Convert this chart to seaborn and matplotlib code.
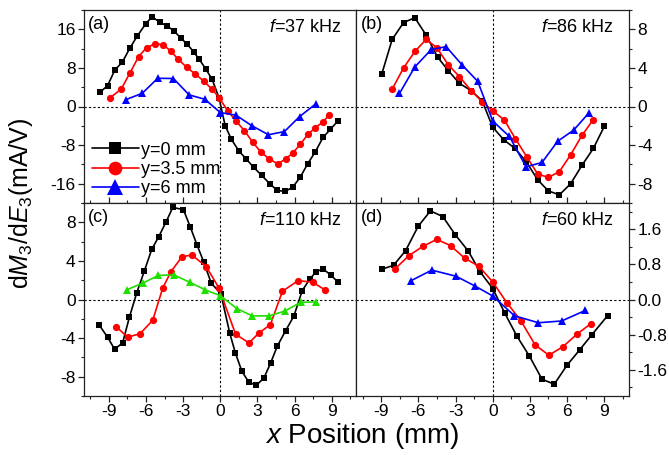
import numpy as np
import pandas as pd
import matplotlib
matplotlib.use("Agg")
import matplotlib.pyplot as plt
from matplotlib.ticker import MultipleLocator, FormatStrFormatter
import seaborn as sns

# ---- data: derivative dM3/dE3 (mA/V) versus x position (mm) ----
# (a) f = 37 kHz
a_y0_x = [-9.7, -9.1, -8.5, -7.9, -7.3, -6.7, -6.0, -5.5, -4.9, -4.3, -3.7, -3.2,
          -2.65, -2.15, -1.7, -1.15, -0.65, -0.1, 0.4, 0.9, 1.5, 2.1, 2.7, 3.35,
          4.0, 4.6, 5.25, 5.85, 6.45, 7.05, 7.65, 8.3, 8.9, 9.5]
a_y0_v = [3.0, 4.3, 7.6, 9.2, 12.1, 14.6, 17.2, 18.6, 17.5, 16.7, 15.6, 14.2,
          12.9, 11.3, 9.8, 7.7, 5.6, 1.8, -4.0, -6.8, -9.2, -10.9, -12.6, -14.3,
          -16.0, -17.4, -17.6, -16.7, -14.7, -11.9, -9.5, -6.4, -4.7, -3.0]
a_y35_x = [-8.9, -8.0, -7.3, -6.6, -5.95, -5.25, -4.6, -4.0, -3.4, -2.7, -2.0,
           -1.35, -0.67, -0.08, 0.6, 1.27, 1.95, 2.62, 3.3, 3.97, 4.64, 5.27,
           5.87, 6.47, 7.07, 7.67, 8.3, 8.77]
a_y35_v = [1.8, 3.6, 6.9, 10.3, 12.2, 13.0, 12.8, 11.5, 9.8, 8.1, 6.7, 5.3,
           3.6, 1.8, -0.9, -3.0, -5.0, -7.4, -9.5, -10.9, -11.9, -10.9, -9.6,
           -7.8, -5.8, -4.4, -3.2, -1.8]
a_y6_x = [-7.64, -6.29, -5.05, -3.78, -2.51, -1.24, 0.0, 1.27, 2.56, 3.89,
          5.18, 6.40, 7.69]
a_y6_v = [1.4, 2.75, 5.85, 5.8, 2.4, 1.5, -1.25, -1.8, -4.0, -5.85, -5.2,
          -2.1, 0.5]

# (b) f = 86 kHz
b_y0_x = [-8.95, -8.12, -7.2, -6.29, -5.38, -4.44, -3.58, -2.69, -1.75, -0.86,
          0.0, 0.89, 1.8, 2.69, 3.63, 4.49, 5.38, 6.29, 7.2, 8.12, 9.01]
b_y0_v = [3.4, 6.95, 8.7, 9.2, 7.4, 5.1, 3.7, 2.4, 1.65, 0.6, -2.15, -3.45,
          -4.35, -5.7, -7.6, -8.75, -9.15, -8.0, -6.1, -4.35, -2.05]
b_y35_x = [-8.12, -7.2, -6.29, -5.38, -4.52, -3.58, -2.69, -1.75, -0.86, 0.0,
           0.94, 1.83, 2.74, 3.63, 4.49, 5.38, 6.29, 7.2, 8.12]
b_y35_v = [1.8, 4.0, 5.7, 6.95, 6.1, 4.3, 3.1, 1.65, 0.5, -0.45, -1.4, -3.35,
           -5.2, -7.0, -7.35, -6.75, -5.0, -3.0, -1.35]
b_y6_x = [-7.53, -6.29, -4.97, -3.76, -2.47, -1.21, 0.0, 1.34, 2.69, 3.98,
          5.24, 6.53, 7.74]
b_y6_v = [1.35, 4.1, 5.9, 6.2, 4.3, 2.6, -1.5, -3.1, -6.25, -5.8, -3.6,
          -2.45, -0.7]

# (c) f = 110 kHz
c_y0_x = [-9.77, -9.1, -8.53, -7.88, -7.34, -6.75, -6.13, -5.53, -4.97, -4.37,
          -3.83, -2.97, -2.43, -1.86, -1.32, -0.73, 0.05, 0.76, 1.21, 1.75,
          2.3, 2.9, 3.52, 4.06, 4.6, 5.27, 5.95, 6.62, 7.22, 7.75, 8.3, 8.92,
          9.5]
c_y0_v = [-2.65, -3.9, -5.15, -4.5, -1.85, 0.65, 2.95, 5.2, 6.5, 8.05, 9.55,
          9.3, 7.55, 5.6, 3.85, 1.7, 0.6, -3.45, -5.5, -7.45, -8.55, -8.9,
          -8.15, -6.6, -4.85, -3.25, -1.7, 0.93, 2.1, 2.9, 3.15, 2.55, 1.8]
c_y35_x = [-8.42, -7.48, -6.48, -5.45, -4.64, -3.97, -3.08, -2.27, -1.13,
           -0.11, 1.24, 2.32, 3.1, 4.05, 5.02, 6.29, 7.45, 8.45]
c_y35_v = [-2.8, -3.9, -3.55, -2.15, 1.2, 2.9, 4.45, 4.6, 3.4, 1.2, -3.6,
           -4.5, -3.5, -2.6, 0.85, 1.95, 1.8, 1.0]
c_y6_x = [-7.56, -6.26, -4.99, -3.75, -2.48, -1.21, 0.0, 1.35, 2.59, 3.94,
          5.21, 6.48, 7.72]
c_y6_v = [1.0, 1.7, 2.5, 2.55, 1.8, 1.0, 0.4, -0.95, -1.7, -1.7, -1.2,
          -0.3, -0.25]

# (d) f = 60 kHz
d_y0_x = [-8.95, -8.01, -7.04, -6.02, -5.03, -4.03, -3.01, -1.99, -1.02, 0.0,
          0.97, 1.94, 2.96, 3.98, 4.97, 5.99, 7.04, 8.01, 9.27]
d_y0_v = [0.69, 0.78, 1.11, 1.67, 2.02, 1.89, 1.47, 1.11, 0.63, 0.25, -0.31,
          -0.83, -1.29, -1.82, -1.93, -1.5, -1.14, -0.8, -0.37]
d_y35_x = [-7.88, -6.77, -5.65, -4.52, -3.41, -2.26, -1.13, 0.0, 1.13, 2.26,
           3.41, 4.52, 5.65, 6.8, 7.93]
d_y35_v = [0.7, 1.0, 1.21, 1.37, 1.23, 0.94, 0.76, 0.4, -0.07, -0.48, -1.03,
           -1.27, -1.08, -0.79, -0.55]
d_y6_x = [-6.59, -4.92, -2.96, -1.45, 0.0, 1.75, 3.68, 5.56, 7.47]
d_y6_v = [0.43, 0.67, 0.53, 0.31, 0.08, -0.37, -0.53, -0.49, -0.25]

series_labels = ["y=0 mm", "y=3.5 mm", "y=6 mm"]
panel_tags = ["(a)", "(b)", "(c)", "(d)"]
freq_labels = ["37", "86", "110", "60"]
x_ticks = [-9, -6, -3, 0, 3, 6, 9]

# ---- style ----
sns.set_theme(style="ticks")
plt.rcParams["font.family"] = ["Liberation Sans", "DejaVu Sans"]
plt.rcParams["mathtext.fontset"] = "custom"
plt.rcParams["mathtext.rm"] = "Liberation Sans"
plt.rcParams["mathtext.it"] = "Liberation Sans:italic"
plt.rcParams["axes.unicode_minus"] = False
plt.rcParams["axes.linewidth"] = 0.9
plt.rcParams["axes.edgecolor"] = "#222222"
plt.rcParams["text.color"] = "black"
plt.rcParams["xtick.color"] = "#222222"
plt.rcParams["ytick.color"] = "#222222"
plt.rcParams["xtick.labelcolor"] = "black"
plt.rcParams["ytick.labelcolor"] = "black"

fig = plt.figure(figsize=(6.69, 4.55), dpi=100)
gs = fig.add_gridspec(2, 2, left=84 / 669, right=629 / 669,
                      top=1 - 10 / 455, bottom=1 - 396 / 455,
                      wspace=0, hspace=0)
axes = [fig.add_subplot(gs[i, j]) for i in range(2) for j in range(2)]

panels = [
    [(a_y0_x, a_y0_v), (a_y35_x, a_y35_v), (a_y6_x, a_y6_v)],
    [(b_y0_x, b_y0_v), (b_y35_x, b_y35_v), (b_y6_x, b_y6_v)],
    [(c_y0_x, c_y0_v), (c_y35_x, c_y35_v), (c_y6_x, c_y6_v)],
    [(d_y0_x, d_y0_v), (d_y35_x, d_y35_v), (d_y6_x, d_y6_v)],
]
color_sets = [
    ["black", "#ff0000", "#0000ff"],
    ["black", "#ff0000", "#0000ff"],
    ["black", "#ff0000", "#22dd00"],
    ["black", "#ff0000", "#0000ff"],
]
markers = ["s", "o", "^"]
msizes = [4.2, 5.2, 6.0]
ylims = [(-20, 20), (-10, 10), (-10, 10), (-2.2, 2.2)]
ymajor = [8, 4, 4, 0.8]
TICK_FS = 12.5

for k, ax in enumerate(axes):
    for s, (xs, vs) in enumerate(panels[k]):
        df = pd.DataFrame({"x": xs, "v": vs})
        sns.lineplot(data=df, x="x", y="v", ax=ax, color=color_sets[k][s],
                     marker=markers[s], markersize=msizes[s], linewidth=1.2,
                     markeredgewidth=0, estimator=None, sort=False,
                     label=series_labels[s] if k == 0 else None, legend=False)
    ax.axhline(0, color="black", lw=0.8, ls=(0, (2, 2)), zorder=0)
    ax.axvline(0, color="black", lw=0.8, ls=(0, (2, 2)), zorder=0)
    ax.set_xlim(-11, 11)
    ax.set_ylim(*ylims[k])
    ax.set_xlabel("")
    ax.set_ylabel("")
    ax.xaxis.set_major_locator(MultipleLocator(3))
    ax.xaxis.set_minor_locator(MultipleLocator(1.5))
    ax.yaxis.set_major_locator(MultipleLocator(ymajor[k]))
    ax.yaxis.set_minor_locator(MultipleLocator(ymajor[k] / 2))
    ax.tick_params(which="both", direction="out", labelsize=TICK_FS, pad=2)
    ax.tick_params(which="major", length=4, width=0.9)
    ax.tick_params(which="minor", length=2.5, width=0.8)
    if k % 2 == 1:
        ax.yaxis.tick_right()
        ax.yaxis.set_label_position("right")
    if k < 2:
        ax.tick_params(axis="x", labelbottom=False)
    else:
        ax.set_xticks(x_ticks)
        ax.tick_params(axis="x", top=True, which="both")
    if k == 3:
        ax.yaxis.set_major_formatter(FormatStrFormatter("%.1f"))
    ax.text(0.016, 0.97, panel_tags[k], transform=ax.transAxes,
            ha="left", va="top", fontsize=13)
    ax.text(0.945, 0.955, r"$f$=" + freq_labels[k] + " kHz",
            transform=ax.transAxes, ha="right", va="top", fontsize=13)
    for sp in ax.spines.values():
        sp.set_visible(True)

leg = axes[0].legend(loc="lower left", bbox_to_anchor=(-0.012, -0.025),
                     frameon=False, fontsize=13, handlelength=2.6,
                     markerscale=1.9, labelspacing=0.12, handletextpad=0.15,
                     borderaxespad=0.2)

fig.text(362 / 669, 1 - 436 / 455, r"$x$ Position (mm)", ha="center",
         va="center", fontsize=20)
fig.text(21 / 669, 1 - 203 / 455, r"d$M_\mathrm{3}$/d$E_\mathrm{3}$(mA/V)",
         ha="center", va="center", rotation=90, fontsize=18)

fig.savefig("out.png", dpi=100)
